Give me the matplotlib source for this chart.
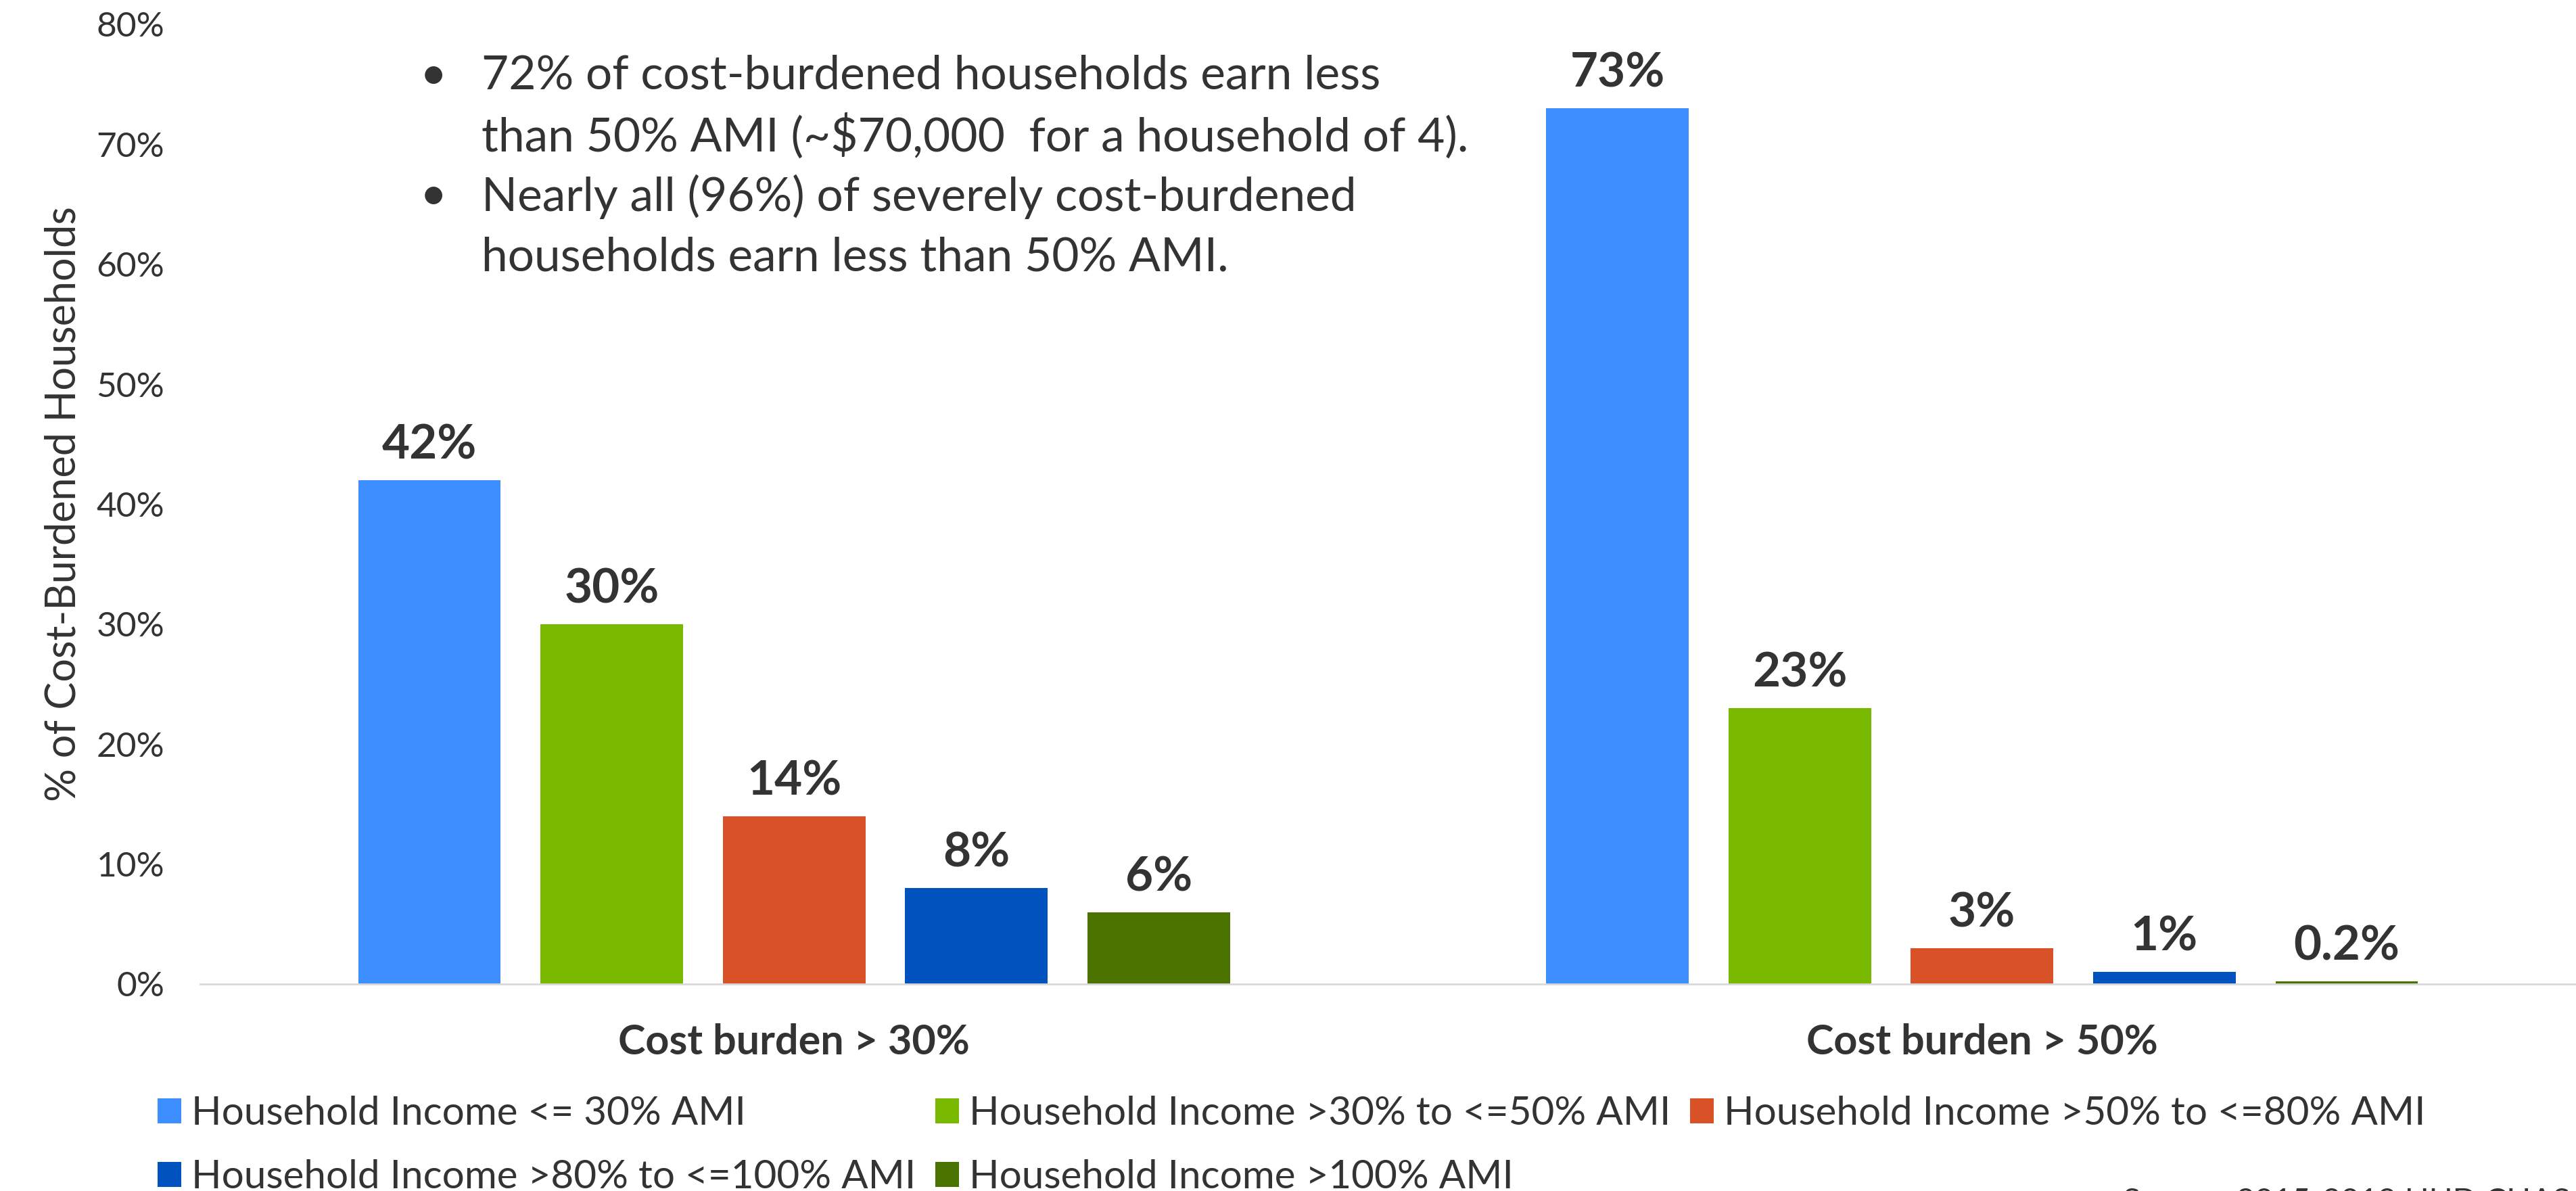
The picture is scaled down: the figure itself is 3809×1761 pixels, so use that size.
import numpy as np
import matplotlib
matplotlib.use('Agg')
import matplotlib.pyplot as plt
from matplotlib.patches import Patch

plt.rcParams['font.family'] = ['Lato', 'DejaVu Sans']
TXT = '#333333'

groups = ['Cost burden > 30%', 'Cost burden > 50%']
series = ['Household Income <= 30% AMI',
          'Household Income >30% to <=50% AMI',
          'Household Income >50% to <=80% AMI',
          'Household Income >80% to <=100% AMI',
          'Household Income >100% AMI']
colors = ['#3d8fff', '#78b900', '#d95127', '#0053be', '#4b7300']
burden_30 = [42, 30, 14, 8, 6]
burden_50 = [73, 23, 3, 1, 0.2]
yticks = [0, 10, 20, 30, 40, 50, 60, 70, 80]
# note lines; True marks the first line of a bullet
note_lines = [('72% of cost-burdened households earn less', True),
              ('than 50% AMI (~$70,000  for a household of 4).', False),
              ('Nearly all (96%) of severely cost-burdened', True),
              ('households earn less than 50% AMI.', False)]

W, H = 3809, 1761
fig = plt.figure(figsize=(W / 100, H / 100), dpi=100)
ax = fig.add_axes([0.0777, 0.1738, 0.9223, 0.8058])

x = np.arange(len(groups))
step = 0.1535
width = 0.12
vals = np.array([burden_30, burden_50]).T
for i, (name, c) in enumerate(zip(series, colors)):
    xs = x + (i - 2) * step
    ax.bar(xs, vals[i], width=width, color=c, label=name, zorder=2)
    for xi, v in zip(xs, vals[i]):
        lab = f'{v:.0f}%' if v >= 1 else f'{v:.1f}%'
        ax.annotate(lab, (xi, v), xytext=(0, 14), textcoords='offset points',
                    ha='center', va='bottom', fontsize=51, fontweight='bold', color=TXT)

ax.set_xlim(-0.5, 1.5)
ax.set_ylim(0, 80)
ax.set_yticks(yticks)
ax.set_yticklabels([f'{t}%' for t in yticks])
ax.set_xticks(x)
ax.set_xticklabels(groups, fontweight='bold')
ax.tick_params(axis='y', length=0, pad=38, labelsize=37, labelcolor=TXT)
ax.tick_params(axis='x', length=0, pad=42, labelsize=44, labelcolor=TXT)
for s in ['top', 'right', 'left']:
    ax.spines[s].set_visible(False)
ax.spines['bottom'].set_color('#d9d9d9')
ax.spines['bottom'].set_linewidth(2)
ax.set_ylabel('% of Cost-Burdened Households', fontsize=44, color=TXT, labelpad=14)

# bullet notes, one text per line
line_y = [112, 202, 291, 381]
for (line, first), yp in zip(note_lines, line_y):
    yy = 1 - yp / H
    if first:
        fig.text(0.163, yy, '\u2022', fontsize=50, color=TXT, va='center')
    fig.text(0.187, yy, line, fontsize=50, color=TXT, va='center')

# legend, row-major order
handles = [Patch(facecolor=c, edgecolor='none') for c in colors]
order = [0, 3, 1, 4, 2]
fig.legend([handles[i] for i in order], [series[i] for i in order],
           loc='upper left', bbox_to_anchor=(0.0612, 0.080), ncol=3, frameon=False,
           fontsize=42, handlelength=0.6, handleheight=0.6, handletextpad=0.25,
           columnspacing=0.5, labelspacing=0.7, borderpad=0, borderaxespad=0,
           labelcolor=TXT)

fig.text(0.824, 0.003, 'Source: 2015-2019 HUD CHAS Data', fontsize=34, color=TXT, va='top')

fig.savefig('out.png', dpi=100)
